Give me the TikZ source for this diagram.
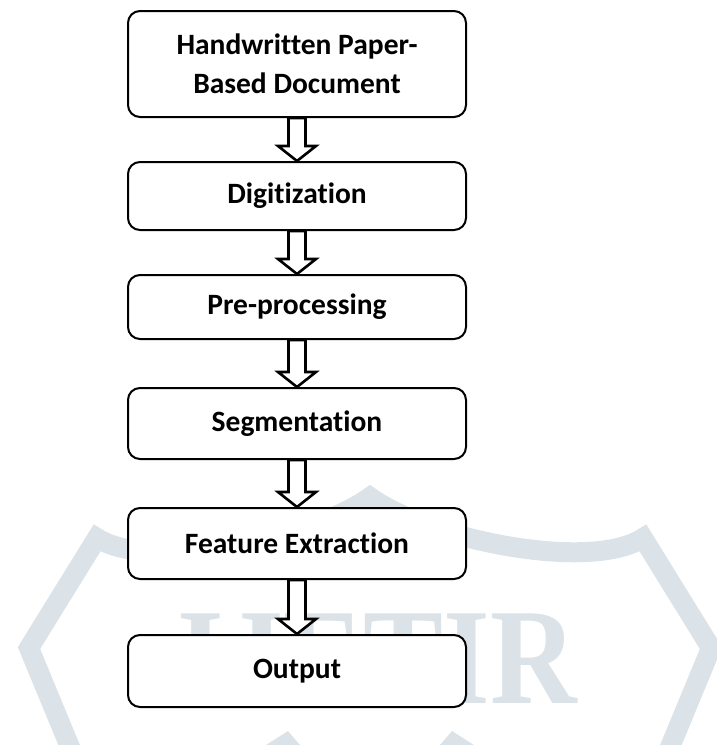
\documentclass[tikz,border=0pt]{standalone}
\usepackage{fontspec}
\usepackage{graphicx}
\setmainfont[Ligatures=NoCommon]{Carlito}
\newfontfamily\markfont{Liberation Serif}
\usetikzlibrary{calc}

\definecolor{markgray}{RGB}{220,227,232}

% hollow block arrow from the bottom of one box to the top of the next
\newcommand{\stagearrow}[2]{%
  \draw[hollow] ($(#1.south)+(-8.5,0)$) -- ($(#2.north)+(-8.5,-15)$)
    -- ++(-10.5,0) -- (#2.north) -- ++(19,-15) -- ++(-10.5,0)
    -- ($(#1.south)+(8.5,0)$) -- cycle;}

\begin{document}
\begin{tikzpicture}[x=1pt,y=-1pt,
   stage/.style={rectangle,draw,rounded corners=12pt,line width=2pt,fill=white,
    minimum width=338pt,inner sep=0pt,align=center,
    font=\fontsize{29.5}{39}\selectfont\bfseries},
   hollow/.style={draw,fill=white,line width=2.6pt,line join=miter},
   badge/.style={draw=markgray,line width=20pt,line join=miter}
    ]
  \useasboundingbox (0,0) rectangle (717,745);

  % -- watermark behind the chart
  \begin{scope}
  \clip (0,0) rectangle (717,745);
  \draw[badge] (72,752) -- (29,648) -- (97,538)
     .. controls (150,572) and (310,540) .. (370,497)
     .. controls (430,540) and (590,572) .. (643,538)
     -- (711,648) -- (668,752);
  \fill[markgray] (266,745) -- (288,731) -- (300,745) -- cycle;
  \fill[markgray] (474,745) -- (452,731) -- (440,745) -- cycle;
  \node[anchor=base west,inner sep=0pt,text=markgray,
    font=\fontsize{137}{137}\markfont\bfseries] (mark) at (177,703)
    {\scalebox{0.875}[1]{IJETIR}};
  \end{scope}

  % -- stages
  \node[stage,minimum height=106pt] at (297,64) (scan) {Handwritten Paper-\\Based Document};
  \node[stage,minimum height=68pt] at (297,196) (digit) {Digitization};
  \node[stage,minimum height=64pt] at (297,307) (prep) {Pre-processing};
  \node[stage,minimum height=71pt] at (297,423.5) (segm) {Segmentation};
  \node[stage,minimum height=71pt] at (297,543.5) (feat) {Feature Extraction};
  \node[stage,minimum height=72pt] at (297,671) (outp) {Output};

  % -- arrows
  \stagearrow{scan}{digit}
  \stagearrow{digit}{prep}
  \stagearrow{prep}{segm}
  \stagearrow{segm}{feat}
  \stagearrow{feat}{outp}

\end{tikzpicture}
\end{document}
